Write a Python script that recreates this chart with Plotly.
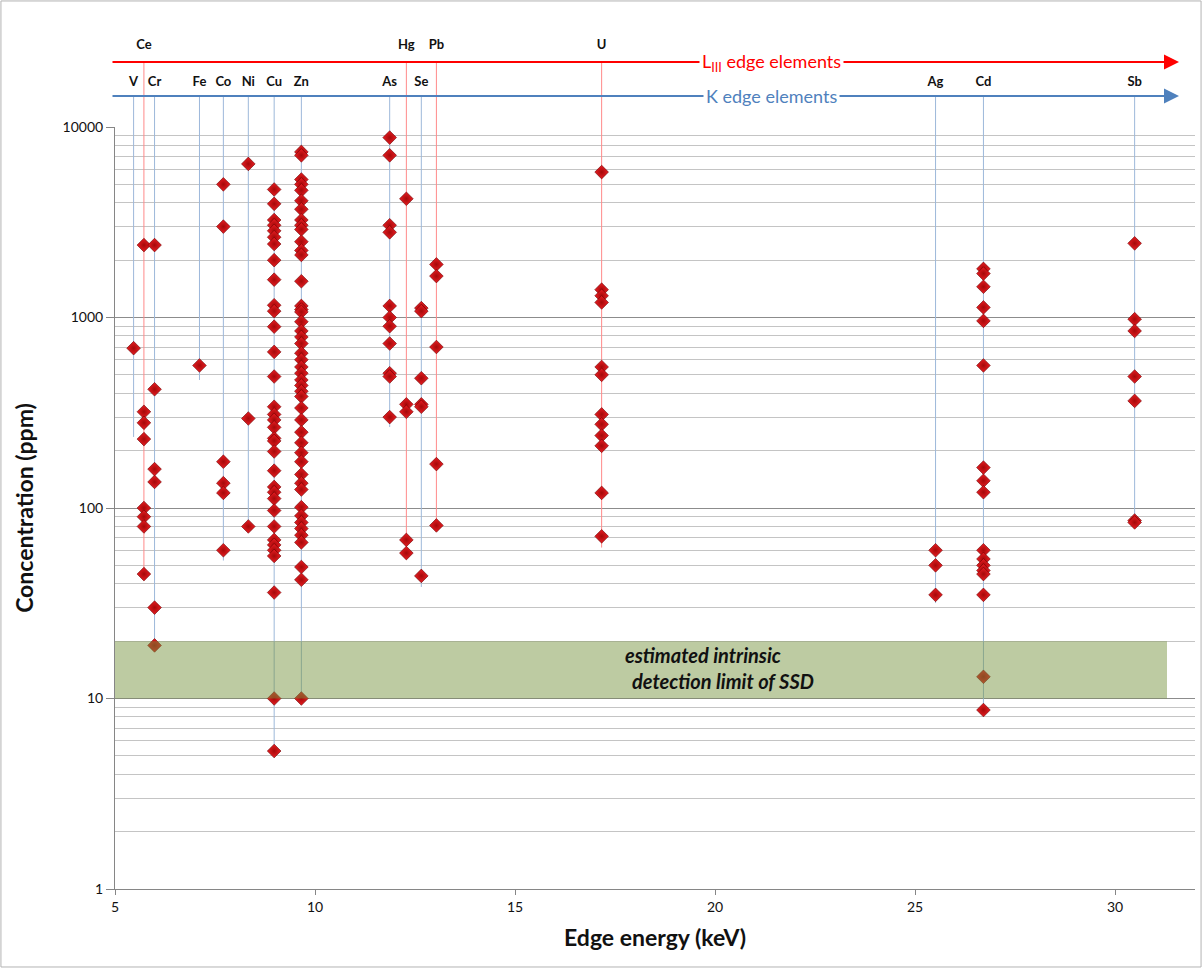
import plotly.graph_objects as go

# Absorption-edge energies (keV)
k_elements = ["V", "Cr", "Fe", "Co", "Ni", "Cu", "Zn", "As", "Se", "Ag", "Cd", "Sb"]
k_energy = [5.465, 5.989, 7.112, 7.709, 8.333, 8.979, 9.659, 11.867, 12.658, 25.514, 26.711, 30.491]
l3_elements = ["Ce", "Hg", "Pb", "U"]
l3_energy = [5.723, 12.284, 13.035, 17.166]

# Measured concentrations (ppm) per element
conc_V = [690]
conc_Ce = [2400, 320, 280, 230, 100, 90, 80, 45]
conc_Cr = [2400, 420, 160, 137, 30, 19]
conc_Fe = [560]
conc_Co = [5000, 3000, 175, 135, 120, 60]
conc_Ni = [6400, 295, 80]
conc_Cu = [4700, 3950, 3250, 3050, 2850, 2640, 2430, 2000, 1580, 1160, 1080, 895,
           660, 490, 340, 310, 290, 265, 232, 225, 198, 157, 129, 121, 112, 97, 80,
           68, 64, 60, 56, 36, 10, 5.3]
conc_Zn = [7400, 7100, 5300, 5000, 4650, 4100, 3700, 3250, 3050, 2900, 2500, 2250,
           2130, 1550, 1150, 1100, 1070, 950, 850, 790, 730, 650, 600, 550, 510, 470,
           440, 410, 385, 335, 290, 250, 220, 195, 175, 150, 135, 125, 101, 91, 84,
           78, 72, 66, 49, 42, 10]
conc_As = [8800, 7100, 3050, 2800, 1150, 1000, 900, 730, 510, 490, 300]
conc_Hg = [4200, 350, 320, 68, 58]
conc_Se = [1120, 1080, 480, 350, 340, 44]
conc_Pb = [1900, 1650, 700, 170, 81]
conc_U = [5800, 1400, 1300, 1200, 550, 500, 310, 275, 240, 212, 120, 71]
conc_Ag = [60, 50, 35]
conc_Cd = [1800, 1700, 1450, 1130, 960, 560, 163, 139, 121, 60, 54, 50, 47, 45, 35, 13, 8.7]
conc_Sb = [2450, 980, 850, 490, 365, 86, 84]

# Lower end of each element's guide line (ppm)
k_line_floor = [236, 18, 470, 53, 78, 4.9, 9.3, 266, 38.5, 31.7, 8.4, 79]
l3_line_floor = [45, 56, 78, 62]

# Detection-limit band (ppm) and its extent in keV
band_low, band_high = 10, 20
band_x = [5, 31.3]

y_major = [1, 10, 100, 1000, 10000]
x_ticks = [5, 10, 15, 20, 25, 30]

conc_by_element = {
    "V": conc_V, "Ce": conc_Ce, "Cr": conc_Cr, "Fe": conc_Fe, "Co": conc_Co,
    "Ni": conc_Ni, "Cu": conc_Cu, "Zn": conc_Zn, "As": conc_As, "Hg": conc_Hg,
    "Se": conc_Se, "Pb": conc_Pb, "U": conc_U, "Ag": conc_Ag, "Cd": conc_Cd,
    "Sb": conc_Sb,
}
energy_by_element = dict(zip(k_elements, k_energy))
energy_by_element.update(zip(l3_elements, l3_energy))

FONT = "Lato"
K_LINE = "#9db8da"
L_LINE = "#ff8a8a"
K_ARROW = "#4f81bd"
L_ARROW = "#ff0000"

# y positions (fraction of the header strip) for arrows and element labels
K_ROW, L_ROW = 0.32, 0.67
K_LABEL, L_LABEL = 0.46, 0.84

fig = go.Figure()


def guide_lines(energies, floors, row, color):
    xs_main, ys_main, xs_top, ys_top = [], [], [], []
    for e, f in zip(energies, floors):
        xs_main += [e, e, None]
        ys_main += [f, 10000, None]
        xs_top += [e, e, None]
        ys_top += [0, row, None]
    fig.add_trace(go.Scatter(x=xs_main, y=ys_main, mode="lines",
                             line=dict(color=color, width=1), hoverinfo="skip",
                             showlegend=False))
    fig.add_trace(go.Scatter(x=xs_top, y=ys_top, mode="lines", xaxis="x", yaxis="y2",
                             line=dict(color=color, width=1), hoverinfo="skip",
                             showlegend=False))


guide_lines(k_energy, k_line_floor, K_ROW, K_LINE)
guide_lines(l3_energy, l3_line_floor, L_ROW, L_LINE)

# Data points
px, py = [], []
for name, vals in conc_by_element.items():
    px += [energy_by_element[name]] * len(vals)
    py += vals
fig.add_trace(go.Scatter(
    x=px, y=py, mode="markers", showlegend=False,
    marker=dict(symbol="diamond", size=10.5, color="#ea1c22",
                gradient=dict(type="radial", color="#a40a0a"),
                line=dict(color="#6a0000", width=0.6)),
))

# Element labels in the header strip
fig.add_trace(go.Scatter(
    x=k_energy, y=[K_LABEL] * len(k_energy), xaxis="x", yaxis="y2", mode="text",
    text=[f"<b>{s}</b>" for s in k_elements],
    textfont=dict(family=FONT, size=13, color="#111"),
    hoverinfo="skip", showlegend=False))
fig.add_trace(go.Scatter(
    x=l3_energy, y=[L_LABEL] * len(l3_energy), xaxis="x", yaxis="y2", mode="text",
    text=[f"<b>{s}</b>" for s in l3_elements],
    textfont=dict(family=FONT, size=13, color="#111"),
    hoverinfo="skip", showlegend=False))

annotations = []
for row, color in ((L_ROW, L_ARROW), (K_ROW, K_ARROW)):
    annotations.append(dict(
        x=31.6, y=row, xref="x", yref="y2", ax=4.9, ay=row, axref="x", ayref="y2",
        text="", showarrow=True, arrowhead=2, arrowsize=1.5, arrowwidth=2,
        arrowcolor=color))
annotations.append(dict(
    x=21.4, y=L_ROW, xref="x", yref="y2", showarrow=False,
    text="L<sub>III</sub> edge elements", bgcolor="white", borderpad=2,
    font=dict(family=FONT, size=18, color=L_ARROW)))
annotations.append(dict(
    x=21.4, y=K_ROW, xref="x", yref="y2", showarrow=False,
    text="K edge elements", bgcolor="white", borderpad=2,
    font=dict(family=FONT, size=18, color=K_ARROW)))
# Band caption, two lines
annotations.append(dict(
    x=19.7, y=1.227, xref="x", yref="y", showarrow=False,
    text="<b><i>estimated intrinsic</i></b>",
    font=dict(family=FONT, size=20, color="#111")))
annotations.append(dict(
    x=20.2, y=1.09, xref="x", yref="y", showarrow=False,
    text="<b><i>detection limit of SSD</i></b>",
    font=dict(family=FONT, size=20, color="#111")))

shapes = [
    dict(type="rect", xref="x", yref="y", x0=band_x[0], x1=band_x[1],
         y0=band_low, y1=band_high, layer="above", line=dict(width=0),
         fillcolor="rgba(118,146,60,0.48)"),
    dict(type="rect", xref="paper", yref="paper", x0=-0.1056, x1=1.0056,
         y0=-0.0908, y1=1.0338, line=dict(color="#b3b3b3", width=1),
         fillcolor="rgba(0,0,0,0)", layer="below"),
]

minor_vals = [m * 10 ** d for d in range(4) for m in range(2, 10)]

main_frac = 762 / 859

fig.update_layout(
    width=1203, height=969,
    margin=dict(l=115, r=8, t=30, b=80),
    paper_bgcolor="white", plot_bgcolor="white",
    font=dict(family=FONT, color="#111"),
    xaxis=dict(range=[5, 32], tickvals=x_ticks, showgrid=False, zeroline=False,
               showline=True, linecolor="#868686", ticks="outside", ticklen=5,
               tickcolor="#868686", tickfont=dict(size=14, color="#111"),
               anchor="y",
               title=dict(text="<b>Edge energy (keV)</b>", standoff=16,
                          font=dict(size=23, color="#111"))),
    yaxis=dict(type="log", range=[0, 4], domain=[0, main_frac],
               tickvals=y_major, ticktext=[str(v) for v in y_major],
               showgrid=True, gridcolor="#8c8c8c", gridwidth=1, zeroline=False,
               showline=True, linecolor="#868686", ticks="outside", ticklen=8,
               tickcolor="#868686", tickfont=dict(size=14, color="#111"),
               minor=dict(tickvals=minor_vals, showgrid=True, gridcolor="#c4c4c4",
                          gridwidth=1, ticks=""),
               title=dict(text="<b>Concentration (ppm)</b>", standoff=22,
                          font=dict(size=23, color="#111"))),
    yaxis2=dict(domain=[main_frac, 1], range=[0, 1], visible=False, anchor="x",
                fixedrange=True),
    annotations=annotations,
    shapes=shapes,
)

fig.write_html("out.html")
